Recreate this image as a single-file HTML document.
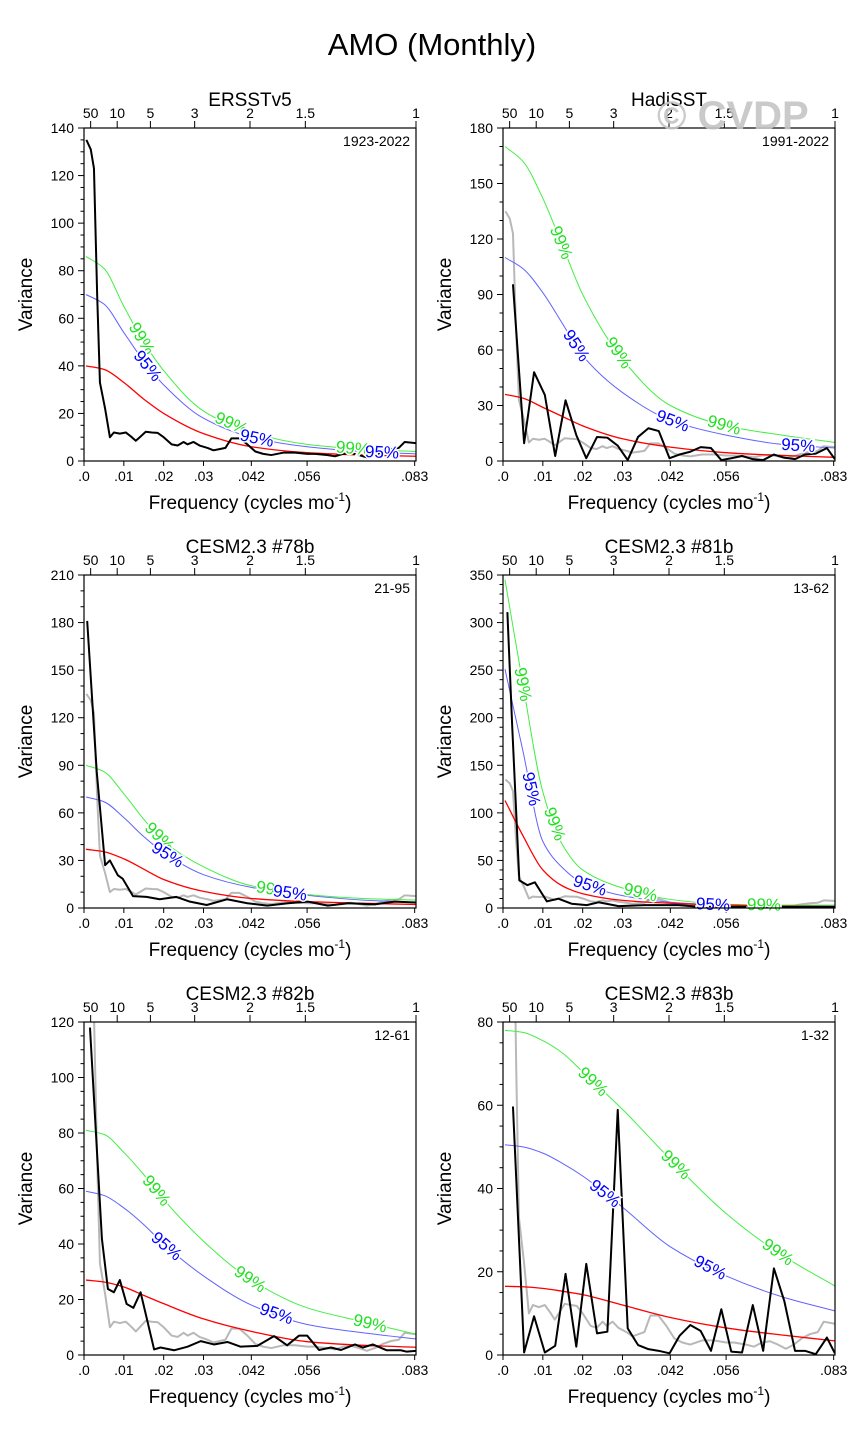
<!DOCTYPE html>
<html><head><meta charset="utf-8">
<style>
html,body{margin:0;padding:0;background:#fff;}
svg{display:block;font-family:"Liberation Sans",Arial,sans-serif;}
</style></head>
<body>
<svg id="chart" width="863" height="1438" viewBox="0 0 863 1438" xmlns="http://www.w3.org/2000/svg">
<text x="432" y="55" font-size="31" text-anchor="middle">AMO (Monthly)</text>
</svg>
<script>
// ---- data ----
const xTickVals = [0, 0.01, 0.02, 0.03, 0.042, 0.056, 0.083];
const xTickLabels = [".0", ".01", ".02", ".03", ".042", ".056", ".083"];
const topPeriods = [50, 10, 5, 3, 2, 1.5, 1];
const titles = ["ERSSTv5", "HadiSST", "CESM2.3 #78b", "CESM2.3 #81b", "CESM2.3 #82b", "CESM2.3 #83b"];
const yearRanges = ["1923-2022", "1991-2022", "21-95", "13-62", "12-61", "1-32"];
const yMaxes = [140, 180, 210, 350, 120, 80];
const yMajor = [20, 30, 30, 50, 20, 20];
const yMinor = [5, 10, 10, 10, 5, 5];

const obsFreq = [0.0006,0.0017,0.0025,0.0033,0.004,0.0053,0.0065,0.0075,0.009,0.0105,0.012,0.013,0.014,0.0155,0.017,0.0185,0.020,0.022,0.0235,0.025,0.026,0.0275,0.029,0.031,0.0325,0.034,0.0355,0.037,0.039,0.041,0.043,0.045,0.047,0.050,0.053,0.056,0.058,0.061,0.063,0.065,0.067,0.069,0.071,0.073,0.075,0.077,0.079,0.0805,0.0833];
const obsVals = [135,131,123,70,33,22,10,12,11.5,12,10,8.5,10,12.3,12,11.8,10,7,6.5,8,7,8,6.5,5.5,4.5,5,5.5,9.5,9.5,7,4,3,2.5,3.5,3.5,3,3,2.5,2,3,3.3,2.5,1.5,2.5,4,5,5.5,8,7.5];

const hadFreq = [0.0025,0.0053,0.0078,0.0105,0.0131,0.0157,0.0184,0.0209,0.0236,0.0262,0.0288,0.0313,0.0339,0.0365,0.0391,0.0418,0.0443,0.047,0.0496,0.0522,0.0548,0.0573,0.06,0.0627,0.0653,0.068,0.0706,0.0733,0.0758,0.0785,0.0813,0.0833];
const hadVals = [95.5,9.6,48,35.7,2.7,32.8,14,1.5,13,12.6,8.3,0.5,13,17.7,16.2,1.5,3.5,5,7.5,7,0.5,1.5,2.7,1,0.5,3.5,1.8,1,3.5,4,7,1];

const m78Freq = [0.0008,0.0032,0.0053,0.0065,0.0085,0.0097,0.0123,0.0157,0.019,0.0232,0.0266,0.0308,0.0359,0.041,0.046,0.0512,0.0562,0.0612,0.0663,0.073,0.078,0.0833];
const m78Vals = [181,85.8,27,30,20.6,18.5,7.5,7,5.5,7,4,1.9,5.5,3,1.5,3,4,1.5,3,2.3,4,3.5];

const m81Freq = [0.0011,0.0023,0.0041,0.0061,0.008,0.011,0.0139,0.0172,0.021,0.024,0.029,0.0355,0.044,0.05,0.06,0.07,0.0833];
const m81Vals = [311,192,29,24,27,7,9.8,4.5,3,6,2,3,3,1,1,1.2,1];

const m82Freq = [0.0015,0.0045,0.006,0.0075,0.009,0.0107,0.0124,0.0142,0.0176,0.0192,0.0226,0.026,0.0293,0.0326,0.036,0.0393,0.0435,0.0477,0.051,0.054,0.056,0.059,0.062,0.0645,0.068,0.07,0.0725,0.076,0.0795,0.081,0.0833];
const m82Vals = [118,41.8,23.8,22.6,27,18.4,17,22.6,2,2.7,1.7,3,5,3.8,4.7,3,3.3,6.8,3.5,7,7,1.8,2.7,1.8,3.8,2.7,3.8,1.7,1.7,1.2,1.5];

const m83Freq = [0.0025,0.0053,0.0078,0.0105,0.0131,0.0157,0.0184,0.0209,0.0236,0.0262,0.0288,0.0313,0.0339,0.0365,0.0391,0.0418,0.0443,0.047,0.0496,0.0522,0.0548,0.0573,0.06,0.0627,0.0653,0.068,0.0706,0.0733,0.0758,0.0785,0.0813,0.0833];
const m83Vals = [59.7,0.6,9.3,0.6,2.2,19.5,2,21.9,5.2,5.6,58.9,6.4,2.4,1.4,1,0.4,4.6,7.2,5.8,1,11,0.8,0.6,12,1,20.8,13,1,1,0.2,4.2,0.4];

const curveFreq = [0, 0.005, 0.01, 0.015, 0.02, 0.03, 0.042, 0.056, 0.07, 0.0833];
const red1 = [40,38.5,33,26,20,11.5,6,3.5,2.5,2];
const c95_1 = [70,66,54,42,32,18,10,6,4,3];
const c99_1 = [86,81,65,50,38,21,12,7,5,4];
const red2 = [36,34,29,24,19,12,7.5,4.5,3,2];
const c95_2 = [110,104,91,74,57,37,22,14,9,7];
const c99_2 = [170,162,142,116,90,55,30,19,14,10];
const red3 = [37,35.5,31,24.5,18,10.5,6,4,3,2.2];
const c95_3 = [70,67,57,45,35,21,13,8,5,3.6];
const c99_3 = [90,86,72,56,42,26,14,8.5,6,5];
const red4 = [113,76,40,23,15,8,5,3,2,1.5];
const c95_4 = [251,165,70,42,26,13,6,3,2,2];
const c99_4 = [345,235,122,66,40,21,9,4,3,3];
const red5 = [27,26.3,24.5,21.5,18.5,13,8.5,4.8,3.5,2.8];
const c95_5 = [59,57.5,53,47,40,28.5,18,11,8,5.8];
const c99_5 = [81,79.5,73,65,56,41,27,17,12,7.5];
const red6 = [16.5,16.4,16,15.3,14.5,12,9,6.5,4.8,3.4];
const c95_6 = [50.5,50,48.5,46,43,35.5,26,19,14,10.6];
const c99_6 = [78,77.5,75.5,72.5,68,59,47,34,24,16.6];

const lab99 = [[0.0145,0.037,0.0675],[0.0146,0.029,0.0555],[0.019,0.0475],[0.005,0.013,0.0345,0.0655],[0.0182,0.0417,0.0718],[0.0226,0.0434,0.069]];
const lab95 = [[0.016,0.0434,0.0748],[0.0184,0.0426,0.0741],[0.021,0.0517],[0.0071,0.0218,0.0527],[0.0207,0.0483],[0.0256,0.052]];

const blackFreq = [obsFreq, hadFreq, m78Freq, m81Freq, m82Freq, m83Freq];
const blackVals = [obsVals, hadVals, m78Vals, m81Vals, m82Vals, m83Vals];
const redSets = [red1, red2, red3, red4, red5, red6];
const c95Sets = [c95_1, c95_2, c95_3, c95_4, c95_5, c95_6];
const c99Sets = [c99_1, c99_2, c99_3, c99_4, c99_5, c99_6];

// ---- drawing ----
const NS = "http://www.w3.org/2000/svg";
const svg = document.getElementById("chart");
const W = 332, H = 333, FMAX = 1/12;
const lefts = [84, 503], tops = [128, 575, 1022];

function mk(tag, attrs, parent) {
  const e = document.createElementNS(NS, tag);
  for (const k in attrs) e.setAttribute(k, attrs[k]);
  (parent || svg).appendChild(e);
  return e;
}
// monotone cubic (Fritsch-Carlson) path
function monoPath(pts) {
  const n = pts.length, dx = [], m = [], t = [];
  for (let i = 0; i < n - 1; i++) { dx[i] = pts[i+1][0] - pts[i][0]; m[i] = (pts[i+1][1] - pts[i][1]) / dx[i]; }
  t[0] = m[0]; t[n-1] = m[n-2];
  for (let i = 1; i < n - 1; i++) {
    if (m[i-1] * m[i] <= 0) t[i] = 0;
    else { const w1 = 2*dx[i] + dx[i-1], w2 = dx[i] + 2*dx[i-1]; t[i] = (w1 + w2) / (w1 / m[i-1] + w2 / m[i]); }
  }
  let d = "M" + pts[0][0].toFixed(2) + "," + pts[0][1].toFixed(2);
  for (let i = 0; i < n - 1; i++) {
    const h = dx[i] / 3;
    d += "C" + (pts[i][0] + h).toFixed(2) + "," + (pts[i][1] + t[i]*h).toFixed(2) + " " +
         (pts[i+1][0] - h).toFixed(2) + "," + (pts[i+1][1] - t[i+1]*h).toFixed(2) + " " +
         pts[i+1][0].toFixed(2) + "," + pts[i+1][1].toFixed(2);
  }
  return d;
}
function interp(fs, vs, f) {
  for (let i = 0; i < fs.length - 1; i++) {
    if (f >= fs[i] && f <= fs[i + 1]) {
      const t = (f - fs[i]) / (fs[i + 1] - fs[i]);
      return vs[i] + t * (vs[i + 1] - vs[i]);
    }
  }
  return vs[vs.length - 1];
}

for (let p = 0; p < 6; p++) {
  const L = lefts[p % 2], T = tops[Math.floor(p / 2)];
  const ymax = yMaxes[p];
  const xs = f => L + f / FMAX * W;
  const ys = v => T + H - v / ymax * H;
  const g = mk("g", {});
  
  

  const clip = mk("clipPath", { id: "clip" + p }, g);
  mk("rect", { x: L, y: T, width: W, height: H }, clip);

  const tt = mk("text", { x: L + W / 2, y: T - 22, "font-size": 19, "text-anchor": "middle" }, g);
  tt.textContent = titles[p];
  
  
  const yr = mk("text", { x: L + W - 6, y: T + 18, "font-size": 14, "text-anchor": "end" }, g);
  yr.textContent = yearRanges[p];
  
  

  for (let v = 0; v <= ymax + 1e-9; v += yMinor[p]) {
    const major = Math.abs(v / yMajor[p] - Math.round(v / yMajor[p])) < 1e-6;
    mk("line", { x1: L - (major ? 6 : 3.5), x2: L, y1: ys(v), y2: ys(v), stroke: "#000", "stroke-width": 1 }, g);
    if (major) {
      const t = mk("text", { x: L - 10, y: ys(v) + 5, "font-size": 14, "text-anchor": "end" }, g);
      t.textContent = v;
      
      
    }
  }
  xTickVals.forEach((f, i) => {
    mk("line", { x1: xs(f), x2: xs(f), y1: T + H, y2: T + H + 5, stroke: "#000", "stroke-width": 1 }, g);
    const t = mk("text", { x: xs(f), y: T + H + 20, "font-size": 14, "text-anchor": "middle" }, g);
    t.textContent = xTickLabels[i];
    
    
  });
  topPeriods.forEach(per => {
    const f = 1 / (12 * per);
    mk("line", { x1: xs(f), x2: xs(f), y1: T, y2: T - 7, stroke: "#000", "stroke-width": 1 }, g);
    const t = mk("text", { x: xs(f), y: T - 10, "font-size": 14, "text-anchor": "middle" }, g);
    t.textContent = per;
    
    
  });
  const yl = mk("text", { x: 0, y: 0, "font-size": 19, "text-anchor": "middle", transform: "translate(" + (L - 52) + "," + (T + H / 2) + ") rotate(-90)" }, g);
  yl.textContent = "Variance";
  
  
  const xl = mk("text", { x: L + W / 2, y: T + H + 48, "font-size": 19, "text-anchor": "middle" }, g);
  xl.innerHTML = 'Frequency (cycles mo<tspan dy="-8" font-size="12">-1</tspan><tspan dy="8">)</tspan>';
  
  

  const plot = mk("g", { "clip-path": "url(#clip" + p + ")" }, g);
  if (p > 0) {
    const gp = mk("polyline", { points: obsFreq.map((f, i) => xs(f) + "," + ys(obsVals[i])).join(" "), fill: "none", stroke: "#b8b8b8", "stroke-width": 2, "stroke-linejoin": "round" }, plot);
    
    
  }
  const curves = [[c99Sets[p], "#44ee44", 1, "ci-99-line"], [c95Sets[p], "#6262ff", 1, "ci-95-line"], [redSets[p], "#ff0000", 1.3, "red-noise-line"]];
  curves.forEach(c => {
    const pts = curveFreq.map((f, i) => [xs(f) + (i === 0 ? 2 : 0), ys(c[0][i])]);
    const path = mk("path", { d: monoPath(pts), fill: "none", stroke: c[1], "stroke-width": c[2] }, plot);
    
    
  });
  const bp = mk("polyline", { points: blackFreq[p].map((f, i) => xs(f) + "," + ys(blackVals[p][i])).join(" "), fill: "none", stroke: "#000", "stroke-width": 2, "stroke-linejoin": "round" }, plot);
  
  

  [[lab99[p], c99Sets[p], "#22e022", "99%"], [lab95[p], c95Sets[p], "#0000ff", "95%"]].forEach(set => {
    set[0].forEach(f => {
      const x0 = xs(f), y0 = ys(interp(curveFreq, set[1], f));
      const xa = xs(f - 0.002), ya = ys(interp(curveFreq, set[1], Math.max(0, f - 0.002)));
      const xb = xs(f + 0.002), yb = ys(interp(curveFreq, set[1], Math.min(FMAX, f + 0.002)));
      const ang = Math.atan2(yb - ya, xb - xa) * 180 / Math.PI;
      const t = mk("text", { x: 0, y: 0, "font-size": 17, "text-anchor": "middle", "dominant-baseline": "central", fill: set[2], stroke: "#fff", "stroke-width": 3, "paint-order": "stroke", transform: "translate(" + x0.toFixed(1) + "," + y0.toFixed(1) + ") rotate(" + ang.toFixed(1) + ")" }, g);
      t.textContent = set[3];
      
      
    });
  });

  const box = mk("rect", { x: L, y: T, width: W, height: H, fill: "none", stroke: "#000", "stroke-width": 1.2 }, g);
  
  
}
const wm = mk("text", { x: 657, y: 129, "font-size": 40, "font-weight": "bold", fill: "#c4c4c4", "fill-opacity": 0.9 });
wm.textContent = "© CVDP";


</script>
</body></html>
